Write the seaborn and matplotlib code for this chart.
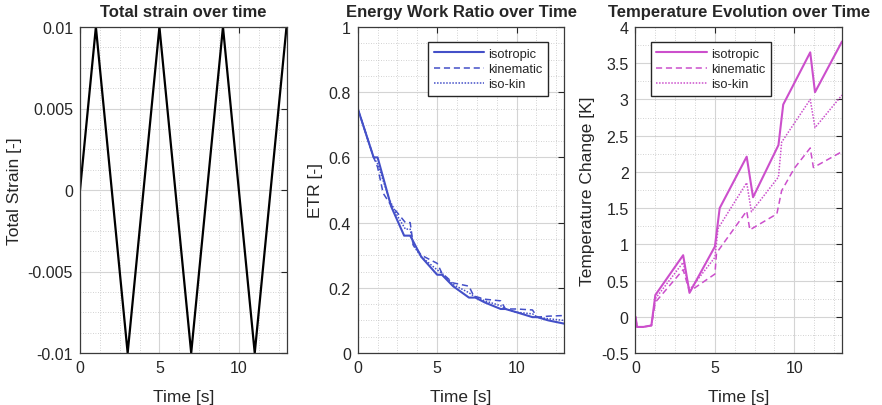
"""Strain, ETR and temperature over time for three hardening models."""

import matplotlib

matplotlib.use("Agg")

import matplotlib.pyplot as plt
import numpy as np
import seaborn as sns
from matplotlib.ticker import MultipleLocator

# total strain (triangle load)
strain_t = [0, 1, 3, 5, 7, 9, 11, 13]
strain_v = [0, 0.01, -0.01, 0.01, -0.01, 0.01, -0.01, 0.01]

# energy work ratio
etr_iso_t = [0, 1, 1.25, 2.1, 2.92, 3.3, 4.0, 5.0, 5.3, 6.0, 7.0, 7.4, 8.0, 9.0, 9.3, 10.0, 11.0, 11.3, 12.0, 13.0]
etr_iso_v = [0.75, 0.6, 0.6, 0.45, 0.36, 0.36, 0.295, 0.24, 0.24, 0.205, 0.17, 0.17, 0.155, 0.135, 0.135, 0.125, 0.11, 0.11, 0.10, 0.09]
etr_kin_t = [0, 1, 1.25, 1.6, 2.0, 2.5, 3.0, 3.3, 3.5, 4.0, 5.0, 5.3, 6.0, 6.5, 7.0, 7.3, 8.0, 9.0, 9.3, 10.0, 11.0, 11.3, 12.0, 13.0]
etr_kin_v = [0.75, 0.6, 0.57, 0.49, 0.46, 0.43, 0.40, 0.40, 0.33, 0.30, 0.275, 0.245, 0.215, 0.21, 0.205, 0.175, 0.165, 0.16, 0.135, 0.135, 0.132, 0.11, 0.113, 0.115]
etr_ik_t = [0, 1, 1.25, 2.0, 2.5, 3.0, 3.3, 3.5, 4.0, 5.0, 5.3, 6.0, 7.0, 7.3, 8.0, 9.0, 9.3, 10.0, 11.0, 11.3, 12.0, 13.0]
etr_ik_v = [0.75, 0.6, 0.58, 0.47, 0.42, 0.38, 0.38, 0.33, 0.295, 0.255, 0.245, 0.21, 0.185, 0.175, 0.16, 0.145, 0.135, 0.125, 0.12, 0.11, 0.105, 0.10]

# temperature change
temp_iso_t = [0, 0.1, 0.5, 1.0, 1.25, 3.0, 3.4, 5.0, 5.3, 7.0, 7.4, 9.0, 9.3, 11.0, 11.3, 13.0]
temp_iso_v = [0, -0.14, -0.14, -0.12, 0.30, 0.85, 0.33, 0.97, 1.50, 2.21, 1.65, 2.37, 2.93, 3.65, 3.10, 3.80]
temp_kin_t = [0, 0.1, 0.5, 1.0, 1.25, 3.0, 3.4, 5.0, 5.1, 7.0, 7.2, 8.9, 9.2, 10.0, 11.0, 11.2, 13.0]
temp_kin_v = [0, -0.14, -0.14, -0.12, 0.20, 0.65, 0.35, 0.59, 0.88, 1.46, 1.20, 1.42, 1.74, 2.05, 2.33, 2.06, 2.28]
temp_ik_t = [0, 0.1, 0.5, 1.0, 1.25, 3.0, 3.4, 5.0, 5.2, 7.0, 7.3, 9.0, 9.2, 11.0, 11.3, 13.0]
temp_ik_v = [0, -0.14, -0.14, -0.12, 0.25, 0.75, 0.37, 0.82, 1.22, 1.85, 1.45, 1.93, 2.41, 3.00, 2.61, 3.06]

models = ["isotropic", "kinematic", "iso-kin"]
styles = {"isotropic": "-", "kinematic": (0, (4, 2.5)), "iso-kin": (0, (1, 1))}
widths = {"isotropic": 1.5, "kinematic": 1.1, "iso-kin": 1.1}

BLUE = "#4450C8"
MAGENTA = "#CC4FCC"

sns.set_style("white")
plt.rcParams["font.family"] = ["Liberation Sans", "DejaVu Sans"]
plt.rcParams["axes.edgecolor"] = "#3a3a3a"
plt.rcParams["xtick.color"] = "#262626"
plt.rcParams["ytick.color"] = "#262626"


def style_axes(ax, ymajor, yminor, title, ylabel):
    ax.set_xlim(0, 13)
    ax.xaxis.set_major_locator(MultipleLocator(5))
    ax.xaxis.set_minor_locator(MultipleLocator(1.25))
    ax.yaxis.set_major_locator(MultipleLocator(ymajor))
    ax.yaxis.set_minor_locator(MultipleLocator(yminor))
    ax.grid(which="major", color="#d4d4d4", linewidth=0.8)
    ax.grid(which="minor", color="#c4c4c4", linewidth=0.6, linestyle=(0, (1, 2)))
    ax.set_axisbelow(True)
    ax.tick_params(which="both", direction="in", top=True, right=True, labelsize=11.5, pad=5)
    ax.tick_params(which="major", length=4, width=0.8)
    ax.tick_params(which="minor", length=0)
    for sp in ax.spines.values():
        sp.set_linewidth(0.9)
    ax.set_title(title, fontsize=12, fontweight="bold", pad=8)
    ax.set_xlabel("Time [s]", fontsize=12.5, labelpad=10)
    ax.set_ylabel(ylabel, fontsize=12.5, labelpad=4)


def set_yticks(ax, ticks):
    ax.set_yticks(ticks)
    ax.set_yticklabels([f"{v:g}" for v in ticks])


fig, axes = plt.subplots(1, 3, figsize=(8.82, 4.06), dpi=100)
fig.subplots_adjust(left=80 / 882, right=842 / 882, top=378 / 406, bottom=52 / 406, wspace=0.345)

# panel 1
ax = axes[0]
sns.lineplot(x=strain_t, y=strain_v, ax=ax, color="black", linewidth=1.6, estimator=None)
style_axes(ax, 0.005, 0.00125, "Total strain over time", "Total Strain [-]")
ax.set_ylim(-0.01, 0.01)
set_yticks(ax, [-0.01, -0.005, 0, 0.005, 0.01])

legend_kw = dict(fontsize=9.3, handlelength=3.9, fancybox=False, framealpha=1, edgecolor="#262626",
                 borderpad=0.45, labelspacing=0.25, handletextpad=0.3, borderaxespad=0)

# panel 2
ax = axes[1]
etr = {"isotropic": (etr_iso_t, etr_iso_v), "kinematic": (etr_kin_t, etr_kin_v), "iso-kin": (etr_ik_t, etr_ik_v)}
for m in models:
    t, v = etr[m]
    sns.lineplot(x=t, y=v, ax=ax, color=BLUE, linestyle=styles[m], linewidth=widths[m], label=m, estimator=None)
style_axes(ax, 0.2, 0.05, "Energy Work Ratio over Time", "ETR [-]")
ax.set_ylim(0, 1)
set_yticks(ax, list(np.round(np.arange(0, 1.01, 0.2), 1)))
leg = ax.legend(loc="upper right", bbox_to_anchor=(0.922, 0.954), **legend_kw)
leg.get_frame().set_linewidth(1.0)

# panel 3
ax = axes[2]
temp = {"isotropic": (temp_iso_t, temp_iso_v), "kinematic": (temp_kin_t, temp_kin_v), "iso-kin": (temp_ik_t, temp_ik_v)}
for m in models:
    t, v = temp[m]
    sns.lineplot(x=t, y=v, ax=ax, color=MAGENTA, linestyle=styles[m], linewidth=widths[m], label=m, estimator=None)
style_axes(ax, 0.5, 0.25, "Temperature Evolution over Time", "Temperature Change [K]")
ax.set_ylim(-0.5, 4)
set_yticks(ax, list(np.round(np.arange(-0.5, 4.01, 0.5), 1)))
leg = ax.legend(loc="upper left", bbox_to_anchor=(0.073, 0.954), **legend_kw)
leg.get_frame().set_linewidth(1.0)

fig.savefig("out.png", dpi=100)
